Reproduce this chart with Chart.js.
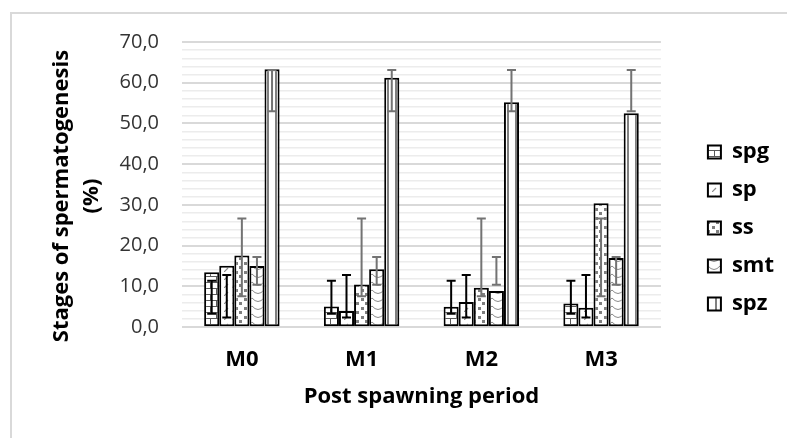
<!DOCTYPE html>
<html>
<head>
<meta charset="utf-8">
<script src="https://cdn.jsdelivr.net/npm/chart.js@4.4.1/dist/chart.umd.min.js"></script>
<style>
html, body { margin: 0; padding: 0; background: #fff; }
#wrap { position: relative; width: 787px; height: 438px; overflow: hidden; }
#frame { position: absolute; left: 10px; top: 12px; width: 800px; height: 440px; border: 2px solid #d9d9d9; box-sizing: border-box; }
canvas { position: absolute; left: 0; top: 0; }
</style>
</head>
<body>
<div id="wrap">
  <div id="frame"></div>
  <canvas id="grafico" width="787" height="438"></canvas>
</div>
<script>
// categorias y valores (%)
const periodos = ['M0', 'M1', 'M2', 'M3'];
const spg = [13.5, 5.1, 5.0, 5.8];
const sp = [15.1, 4.0, 6.2, 4.8];
const ss = [17.6, 10.5, 9.7, 30.4];
const smt = [15.0, 14.2, 8.9, 17.0];
const spz = [63.3, 61.2, 55.2, 52.5];

// barras de error (extremo inferior / superior)
const spgLow = [3.3, 3.3, 3.3, 3.3];
const spgHigh = [11.4, 11.4, 11.4, 11.4];
const spLow = [2.4, 2.4, 2.4, 2.4];
const spHigh = [12.8, 12.8, 12.8, 12.8];
const ssLow = [7.6, 7.6, 7.6, 7.6];
const ssHigh = [26.7, 26.7, 26.7, 26.7];
const smtLow = [10.4, 10.4, 10.4, 10.4];
const smtHigh = [17.2, 17.2, 17.2, 17.2];
const spzLow = [53.0, 53.0, 53.0, 53.0];
const spzHigh = [63.1, 63.1, 63.1, 63.1];

// tramas tipo Excel
function trama(tipo) {
    const c = document.createElement('canvas');
    const g = c.getContext('2d');
    if (tipo === 'ladrillo') {
        c.width = 12; c.height = 12;
        g.fillStyle = '#fff'; g.fillRect(0, 0, 12, 12);
        g.strokeStyle = '#595959'; g.lineWidth = 1;
        g.beginPath();
        g.moveTo(0, 0.5); g.lineTo(12, 0.5);
        g.moveTo(0, 6.5); g.lineTo(12, 6.5);
        g.moveTo(0.5, 0); g.lineTo(0.5, 6);
        g.moveTo(6.5, 6); g.lineTo(6.5, 12);
        g.stroke();
    } else if (tipo === 'diagonal') {
        c.width = 8; c.height = 8;
        g.fillStyle = '#fff'; g.fillRect(0, 0, 8, 8);
        g.strokeStyle = '#8c8c8c'; g.lineWidth = 1.2;
        g.beginPath();
        g.moveTo(0, 8); g.lineTo(4, 4);
        g.stroke();
    } else if (tipo === 'puntos') {
        c.width = 9; c.height = 9;
        g.fillStyle = '#fff'; g.fillRect(0, 0, 9, 9);
        g.fillStyle = '#7f7f7f';
        g.fillRect(1, 1, 3, 3);
        g.fillRect(5, 5, 3, 3);
    } else if (tipo === 'ondas') {
        c.width = 12; c.height = 8;
        g.fillStyle = '#fff'; g.fillRect(0, 0, 12, 8);
        g.strokeStyle = '#8c8c8c'; g.lineWidth = 1;
        g.beginPath();
        g.moveTo(0, 2); g.quadraticCurveTo(6, 9, 12, 2);
        g.stroke();
    } else {
        c.width = 8; c.height = 4;
        g.fillStyle = '#fff'; g.fillRect(0, 0, 8, 4);
        g.fillStyle = '#808080';
        g.fillRect(3, 0, 2, 4);
    }
    return g.createPattern(c, 'repeat');
}

const errorBars = {
    id: 'errorBars',
    afterDatasetsDraw(chart) {
        const ctx = chart.ctx;
        const y = chart.scales.y;
        chart.data.datasets.forEach((ds, i) => {
            const meta = chart.getDatasetMeta(i);
            ctx.save();
            ctx.strokeStyle = ds.errColor;
            ctx.lineWidth = 2;
            meta.data.forEach((bar, j) => {
                const lo = y.getPixelForValue(ds.errLow[j]);
                const hi = y.getPixelForValue(ds.errHigh[j]);
                ctx.beginPath();
                ctx.moveTo(bar.x, lo); ctx.lineTo(bar.x, hi);
                ctx.moveTo(bar.x - 4.5, lo); ctx.lineTo(bar.x + 4.5, lo);
                ctx.moveTo(bar.x - 4.5, hi); ctx.lineTo(bar.x + 4.5, hi);
                ctx.stroke();
            });
            ctx.restore();
        });
    }
};

function serie(nombre, datos, fondo, low, high, colorErr) {
    return {
        label: nombre,
        data: datos,
        backgroundColor: fondo,
        borderColor: '#000',
        borderWidth: 2,
        borderSkipped: false,
        errLow: low,
        errHigh: high,
        errColor: colorErr
    };
}

const ctx = document.getElementById('grafico').getContext('2d');
new Chart(ctx, {
    type: 'bar',
    data: {
        labels: periodos,
        datasets: [
            serie('spg', spg, trama('ladrillo'), spgLow, spgHigh, '#000'),
            serie('sp', sp, trama('diagonal'), spLow, spHigh, '#000'),
            serie('ss', ss, trama('puntos'), ssLow, ssHigh, '#737373'),
            serie('smt', smt, trama('ondas'), smtLow, smtHigh, '#737373'),
            serie('spz', spz, trama('vertical'), spzLow, spzHigh, '#737373')
        ]
    },
    options: {
        responsive: false,
        animation: false,
        devicePixelRatio: 1,
        layout: { padding: { left: 40, top: 42, right: 3, bottom: 24 } },
        datasets: { bar: { categoryPercentage: 0.63, barPercentage: 1 } },
        plugins: {
            tooltip: { enabled: false },
            legend: {
                position: 'right',
                labels: {
                    boxWidth: 13,
                    boxHeight: 13,
                    padding: 16,
                    color: '#000',
                    font: { family: 'Open Sans', size: 22, weight: 'bold' }
                }
            }
        },
        scales: {
            x: {
                grid: { display: false, drawTicks: false },
                border: { display: false },
                ticks: { color: '#000', padding: 19, font: { family: 'Open Sans', size: 22, weight: 'bold' } },
                title: {
                    display: true,
                    text: 'Post spawning period',
                    color: '#000',
                    padding: { top: -8, bottom: 4 },
                    font: { family: 'Open Sans', size: 22, weight: 'bold' }
                }
            },
            y: {
                min: 0,
                max: 70,
                border: { display: false },
                grid: {
                    drawTicks: false,
                    color: c => c.tick && c.tick.value % 10 === 0 ? '#d9d9d9' : '#ececec',
                    lineWidth: c => c.tick && c.tick.value % 10 === 0 ? 2 : 1.5
                },
                ticks: {
                    stepSize: 2,
                    autoSkip: false,
                    padding: 23,
                    color: '#333',
                    font: { family: 'Open Sans', size: 20 },
                    callback: v => v % 10 === 0 ? v.toFixed(1).replace('.', ',') : ''
                },
                title: {
                    display: true,
                    text: ['Stages of spermatogenesis    ', '(%)    '],
                    color: '#000',
                    padding: { top: 6, bottom: 0 },
                    font: { family: 'Open Sans', size: 22, weight: 'bold', lineHeight: 1.4 }
                },
                afterFit(scale) { scale.width = 142; }
            },
            gap: {
                type: 'linear',
                position: 'right',
                display: true,
                grid: { display: false, drawTicks: false },
                border: { display: false },
                ticks: { display: false },
                afterFit(scale) { scale.width = 31; }
            }
        }
    },
    plugins: [errorBars]
});
</script>
</body>
</html>
